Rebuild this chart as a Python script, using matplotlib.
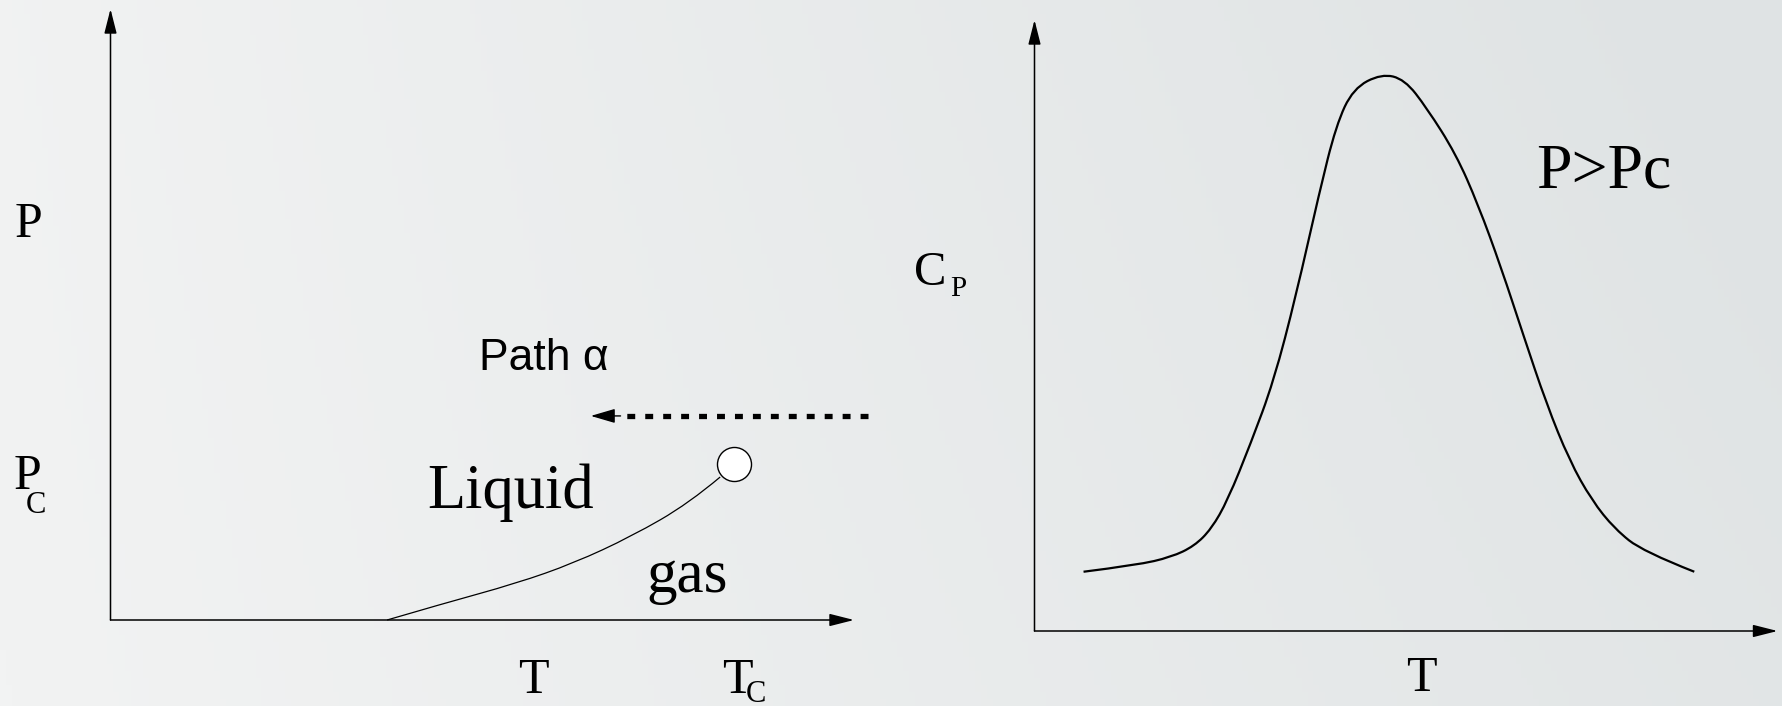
import numpy as np
import matplotlib
matplotlib.use("Agg")
import matplotlib.pyplot as plt
from matplotlib.colors import LinearSegmentedColormap
from matplotlib.path import Path
from matplotlib.patches import PathPatch

W, H = 1783, 706

# ---------------- data ----------------
# Left panel: P-T phase diagram (axes in % of drawn axis length)
coex_T = [37.2, 44.5, 54.6, 62.3, 70.1, 77.8, 82.0]
coex_P = [0.0, 2.6, 6.0, 9.3, 13.7, 19.1, 23.4]
crit_T, crit_P = 83.8, 25.5
path_T = [101.9, 64.6]     # dashed "Path alpha" (from, to)
path_P = 33.4

# Right panel: Cp vs T for P > Pc
cp_T = [6.6, 13.8, 18.4, 21.5, 23.8, 26.0, 29.1, 32.2, 35.2, 38.3, 40.6,
        42.9, 46.7, 49.8, 52.8, 56.7, 59.7, 62.8, 65.8, 68.9, 72.0, 75.0,
        78.1, 81.9, 88.8]
cp_V = [9.7, 10.8, 12.1, 13.9, 16.7, 21.4, 30.7, 40.9, 54.9, 71.6, 82.8,
        88.8, 91.2, 90.3, 85.6, 78.1, 69.8, 59.5, 48.4, 37.2, 27.9, 21.4,
        16.7, 13.0, 9.7]

fig = plt.figure(figsize=(W / 100, H / 100), dpi=100)

# background gradient
bg = fig.add_axes([0, 0, 1, 1])
bg.set_xlim(0, W)
bg.set_ylim(H, 0)
bg.axis("off")
cmap = LinearSegmentedColormap.from_list("bgc", ["#f2f3f3", "#dfe3e4"])
xx, yy = np.meshgrid(np.linspace(0, 1, 300), np.linspace(0, 1, 100))
grad = 0.85 * xx + 0.15 * (1 - yy) * xx + 0.05 * (1 - yy)
bg.imshow(grad, cmap=cmap, extent=[0, W, H, 0], aspect="auto", zorder=0,
          vmin=0, vmax=1)

serif = ["Liberation Serif", "DejaVu Serif"]
sans = ["Liberation Sans", "DejaVu Sans"]


def axis_arrows(ax):
    style = "-|>,head_length=15,head_width=3.8"
    for tip in [(100, 0), (0, 100)]:
        ax.annotate("", xy=tip, xytext=(0, 0),
                    arrowprops=dict(arrowstyle=style, mutation_scale=1,
                                    color="black", lw=1.1,
                                    shrinkA=0, shrinkB=0),
                    annotation_clip=False)


def smooth_curve(ax, xs, ys, lw):
    """Quadratic Bezier chain through the read points (drawn by matplotlib Path)."""
    pts = list(zip(xs, ys))
    verts = [pts[0]]
    codes = [Path.MOVETO]
    n = len(pts)
    for i in range(1, n - 2):
        mid = ((pts[i][0] + pts[i + 1][0]) / 2, (pts[i][1] + pts[i + 1][1]) / 2)
        verts += [pts[i], mid]
        codes += [Path.CURVE3, Path.CURVE3]
    verts += [pts[n - 2], pts[n - 1]]
    codes += [Path.CURVE3, Path.CURVE3]
    patch = PathPatch(Path(verts, codes), facecolor="none", edgecolor="black",
                      lw=lw, clip_on=False, capstyle="butt", joinstyle="round")
    ax.add_patch(patch)


# ---------------- left panel ----------------
axL = fig.add_axes([110.5 / W, (H - 620) / H, (854 - 110.5) / W, (620 - 9) / H])
axL.set_xlim(0, 100)
axL.set_ylim(0, 100)
axL.axis("off")
axL.patch.set_alpha(0)
axis_arrows(axL)
smooth_curve(axL, coex_T, coex_P, 0.9)
axL.plot([crit_T], [crit_P], marker="o", ms=24.5, mfc="white", mec="black",
         mew=1.0, clip_on=False, zorder=5)
# dashed path arrow
head_len = 2.8
axL.plot([path_T[0], path_T[1] + head_len + 1.0], [path_P, path_P],
         color="black", lw=3.8, linestyle=(0, (1.5, 1.9)),
         dash_capstyle="butt", clip_on=False)
axL.annotate("", xy=(path_T[1], path_P), xytext=(path_T[1] + head_len + 1.2, path_P),
             arrowprops=dict(arrowstyle="-|>,head_length=15,head_width=4.4",
                             mutation_scale=1, color="black", lw=1.0,
                             shrinkA=0, shrinkB=0),
             annotation_clip=False)

# ---------------- right panel ----------------
axR = fig.add_axes([1034.5 / W, (H - 631) / H, (1777.5 - 1034.5) / W, (631 - 20) / H])
axR.set_xlim(0, 100)
axR.set_ylim(0, 100)
axR.axis("off")
axR.patch.set_alpha(0)
axis_arrows(axR)
smooth_curve(axR, cp_T, cp_V, 1.6)

# ---------------- texts (pixel positions) ----------------
def txt(x, y, s, size, fam=serif, ha="left"):
    bg.text(x, y, s, fontsize=size, family=fam, ha=ha, va="baseline",
            color="black", zorder=3)

txt(28, 237, "P", 36, ha="center")
txt(27, 489, "P", 36, ha="center")
txt(36, 513, "C", 22, ha="center")
txt(533, 693, "T", 36, ha="center")
txt(737, 693, "T", 36, ha="center")
txt(756, 702, "C", 22, ha="center")
txt(479, 370, "Path \u03b1", 32, fam=sans)
txt(427, 508, "Liquid", 45)
txt(646, 592, "gas", 44)
txt(914, 285, "C", 35)
txt(950, 296, "P", 21)
txt(1536, 188, "P>Pc", 46)
txt(1421, 691, "T", 36, ha="center")

fig.savefig("out.png", dpi=100)
